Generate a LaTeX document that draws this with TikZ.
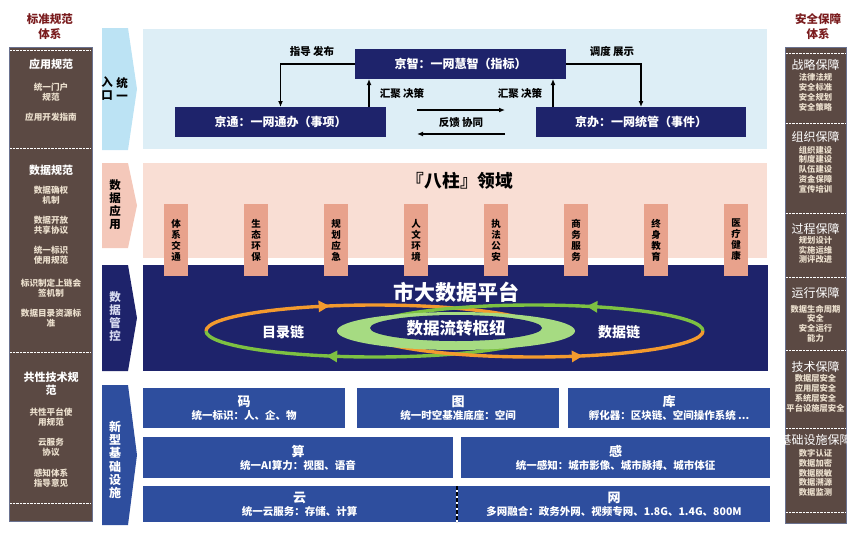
\documentclass[tikz,border=0pt]{standalone}
\usepackage{fontspec}
\setmainfont{Noto Sans CJK SC}
\usetikzlibrary{positioning,arrows.meta,shapes.geometric,decorations.markings}

\definecolor{stdred}{HTML}{7A1C1E}
\definecolor{colbrown}{HTML}{5B4943}
\definecolor{colline}{HTML}{6A7290}
\definecolor{itemtxt}{HTML}{EBDFCD}
\definecolor{skyback}{HTML}{DDEEF6}
\definecolor{skytab}{HTML}{BCE3F4}
\definecolor{navybox}{HTML}{1E236B}
\definecolor{navytxt}{HTML}{D6DAF0}
\definecolor{pinkback}{HTML}{F9DED4}
\definecolor{pinktab}{HTML}{F4C8BA}
\definecolor{pillarcol}{HTML}{E8A28C}
\definecolor{infrablue}{HTML}{2E4E9E}
\definecolor{chainor}{HTML}{F39A2E}
\definecolor{chaingr}{HTML}{7DC142}
\definecolor{hubgr}{HTML}{A6DB82}

\begin{document}
\begin{tikzpicture}[x=1pt,y=-1pt,
	every node/.style={inner sep=0pt,outer sep=0pt},
	ttl/.style={text=stdred,font=\bfseries\fontsize{11.5}{15}\selectfont,align=center},
	lhead/.style={text=white,font=\bfseries\fontsize{11}{13}\selectfont,align=center},
	litem/.style={text=itemtxt,font=\bfseries\fontsize{8.6}{10}\selectfont,align=center},
	rhead/.style={text=white,font=\fontsize{12}{14}\selectfont,align=center},
	ritem/.style={text=itemtxt,font=\bfseries\fontsize{8.3}{9.8}\selectfont,align=center},
	tabtxt/.style={font=\bfseries\fontsize{11.5}{13}\selectfont,align=center},
	topbox/.style={fill=navybox,text=white,minimum height=30,font=\bfseries\fontsize{12}{14}\selectfont},
	lbl/.style={font=\bfseries\fontsize{10.5}{12}\selectfont},
	arr/.style={-{Latex[length=6pt,width=5pt]},line width=1.4pt},
	pillar/.style={fill=pillarcol,minimum width=24,minimum height=72,align=center,font=\bfseries\fontsize{9.5}{11}\selectfont},
	chainl/.style={line width=3.4pt,postaction={decorate}},
	infra/.style={fill=infrablue,text=white,align=center,font=\bfseries\fontsize{10.5}{13}\selectfont},
	big/.style={font=\bfseries\fontsize{18}{20}\selectfont}
]
\useasboundingbox (0,0) rectangle (865,533);

% standards column
\node[ttl] (stdt) at (50,27) {标准规范\\体系};
\draw[fill=colbrown,draw=colline] (9,47) rectangle (92,521);
\foreach \y in {50,148,352,503}
	\draw[white,densely dotted] (10,\y) -- (91,\y);
\foreach \y/\t [count=\i] in {64/应用规范,170/数据规范,383.5/{共性技术规\\范}}
	\node[lhead] (lh\i) at (51,\y) {\t};
\foreach \y/\t [count=\i] in {92/{统一门户\\规范},117/应用开发指南,195.5/{数据确权\\机制},225.5/{数据开放\\共享协议},255.5/{统一标识\\使用规范},288/{标识制定上链会\\签机制},318/{数据目录资源标\\准},417/{共性平台使\\用规范},447/{云服务\\协议},478.5/{感知体系\\指导意见}}
	\node[litem] (li\i) at (51,\y) {\t};

% security column
\node[ttl] (aqt) at (818,27) {安全保障\\体系};
\draw[fill=colbrown,draw=colline] (785,47) rectangle (846,523);
\foreach \y in {53,123,213,277,350,428,512}
	\draw[white,densely dotted] (786,\y) -- (845,\y);
\foreach \y/\t [count=\i] in {65/战略保障,137/组织保障,229/过程保障,293/运行保障,367/技术保障,440/基础设施保障}
	\node[rhead] (rh\i) at (815.5,\y) {\t};
\foreach \y/\t [count=\i] in {92.5/{法律法规\\安全标准\\安全规划\\安全策略},169.5/{组织建设\\制度建设\\队伍建设\\资金保障\\宣传培训},250/{规划设计\\实施运维\\测评改进},323.5/{数据生命周期\\安全\\安全运行\\能力},393.5/{数据层安全\\应用层安全\\系统层安全\\平台设施层安全},473/{数字认证\\数据加密\\数据脱敏\\数据溯源\\数据监测}}
	\node[ritem] (ri\i) at (815.5,\y) {\t};

% tabs
\foreach \a/\b/\c in {28/150/skytab,163/248/pinktab,265/371/navybox,385/525/infrablue}
	\fill[\c] (102,\a) -- (128,\a) -- (137,{(\a+\b)/2}) -- (128,\b) -- (102,\b) -- cycle;
\node[tabtxt] (tab1a) at (122,89) {统\\一};
\node[tabtxt] (tab1b) at (107,89) {入\\口};
\node[tabtxt] (tab2) at (115,205) {数\\据\\应\\用};
\node[tabtxt,text=navytxt] (tab3) at (115,317) {数\\据\\管\\控};
\node[tabtxt,text=white,font=\bfseries\fontsize{12}{13.3}\selectfont] (tab4) at (115,460) {新\\型\\基\\础\\设\\施};

% unified entry
\fill[skyback] (143,29) rectangle (767,149);
\node[topbox,minimum width=211] (jz) at (460.5,64) {京智：一网慧智（指标）};
\node[topbox,minimum width=211] (jt) at (280.5,122) {京通：一网通办（事项）};
\node[topbox,minimum width=210] (jb) at (641,122) {京办：一网统管（事件）};
\draw[arr] (jz.west) -| (jt.north);
\draw[arr] (jz.east) -| (jb.north);
\coordinate (up1) at ([xshift=-17pt]jt.north east);
\coordinate (up2) at ([xshift=17pt]jb.north west);
\draw[arr] (up1) -- (up1 |- jz.south);
\draw[arr] (up2) -- (up2 |- jz.south);
\coordinate (fbl) at ([xshift=31pt]jt.east);
\coordinate (fbr) at ([xshift=-31pt]jb.west);
\draw[arr] ([yshift=12pt]fbl) -- ([yshift=12pt]fbr);
\draw[arr] ([yshift=-12pt]fbr) -- ([yshift=-12pt]fbl);
\node[lbl] (zdfb) at (312,51) {指导 发布};
\node[lbl] (ddzs) at (612,52) {调度 展示};
\node[lbl] (hj1) at (402,93) {汇聚 决策};
\node[lbl] (hj2) at (520,93) {汇聚 决策};
\node[lbl] (fkxt) at (461,123) {反馈 协同};

% eight pillars
\fill[pinkback] (143,163) rectangle (767,258);
\node[big,font=\bfseries\fontsize{17.7}{20}\selectfont] (bz) at (460,181) {『八柱』领域};
\fill[navybox] (143,265) rectangle (768,371);
\foreach \t [count=\i] in {{体\\系\\交\\通},{生\\态\\环\\保},{规\\划\\应\\急},{人\\文\\环\\境},{执\\法\\公\\安},{商\\务\\服\\务},{终\\身\\教\\育},{医\\疗\\健\\康}}
	\node[pillar] (p\i) at ({96+80*\i},240) {\t};

% data platform
\node[big,text=white,font=\bfseries\fontsize{21}{22}\selectfont] (ptf) at (456,292) {市大数据平台};
\draw[chainl,chainor,decoration={markings,mark=at position 0.37 with {\arrow{Triangle[length=11pt,width=11pt]}}}]
	(206,331) arc[start angle=180,end angle=0,x radius=169pt,y radius=26pt];
\draw[chainl,chaingr,decoration={markings,mark=at position 0.64 with {\arrow{Triangle[length=11pt,width=11pt]}}}]
	(544,331) arc[start angle=0,end angle=-180,x radius=169pt,y radius=26pt];
\draw[chainl,chaingr,decoration={markings,mark=at position 0.35 with {\arrow{Triangle[length=11pt,width=11pt]}}}]
	(703,331) arc[start angle=0,end angle=180,x radius=169pt,y radius=26pt];
\draw[chainl,chainor,decoration={markings,mark=at position 0.64 with {\arrow{Triangle[length=11pt,width=11pt]}}}]
	(365,331) arc[start angle=180,end angle=360,x radius=169pt,y radius=26pt];
\node[ellipse,fill=hubgr,minimum width=238,minimum height=38] (hubout) at (456,331) {};
\node[ellipse,fill=navybox,minimum width=172,minimum height=26,text=white,font=\bfseries\fontsize{16.5}{18}\selectfont] (hub) at (456,328) {数据流转枢纽};
\node[text=white,font=\bfseries\fontsize{14}{16}\selectfont] (mll) at (283,332) {目录链};
\node[text=white,font=\bfseries\fontsize{14}{16}\selectfont] (sjl) at (619,332) {数据链};

% infrastructure
\node[infra,minimum width=202,minimum height=40] (ma) at (244,408) {{\fontsize{13}{13}\selectfont 码}\\统一标识：人、企、物};
\node[infra,minimum width=202,minimum height=40] (tu) at (458,408) {{\fontsize{13}{13}\selectfont 图}\\统一时空基准底座：空间};
\node[infra,minimum width=202,minimum height=40] (ku) at (669,408) {{\fontsize{13}{13}\selectfont 库}\\孵化器：区块链、空间操作系统 ...};
\node[infra,minimum width=310,minimum height=41] (suan) at (298,457.5) {{\fontsize{13}{13}\selectfont 算}\\统一AI算力：视图、语音};
\node[infra,minimum width=309,minimum height=41] (gan) at (615.5,457.5) {{\fontsize{13}{13}\selectfont 感}\\统一感知：城市影像、城市脉搏、城市体征};
\node[infra,minimum width=313,minimum height=36] (yun) at (299.5,504) {{\fontsize{13}{13}\selectfont 云}\\统一云服务：存储、计算};
\node[infra,minimum width=312,minimum height=36] (wang) at (614,504) {{\fontsize{13}{13}\selectfont 网}\\多网融合：政务外网、视频专网、1.8G、1.4G、800M};
\draw[black,line width=1.6pt,dash pattern=on 4pt off 2pt] ([xshift=1pt]yun.north east) -- ([xshift=1pt]yun.south east);
\end{tikzpicture}
\end{document}
